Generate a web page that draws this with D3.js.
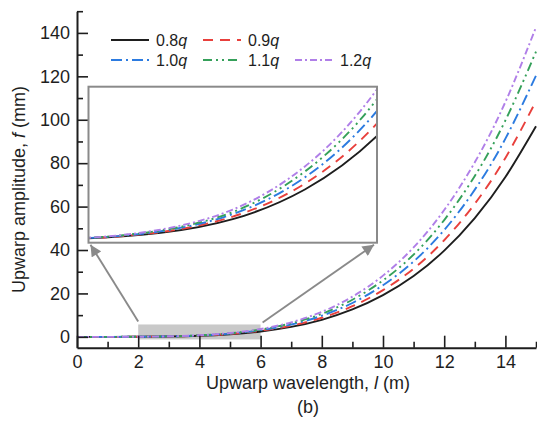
<!DOCTYPE html>
<html>
<head>
<meta charset="utf-8">
<script src="https://cdn.jsdelivr.net/npm/d3@7"></script>
<style>
  body { margin: 0; background: #fff; }
  svg { display: block; font-family: "Liberation Sans", Arial, sans-serif; }
</style>
</head>
<body>
<svg id="chart" width="537" height="429"></svg>
<script>
// ---- data ----
const wavelength = [0, 1, 2, 3, 4, 5, 6, 7, 8, 9, 10, 11, 12, 13, 14, 15];
const seriesNames = ["0.8", "0.9", "1.0", "1.1", "1.2"];
const amp08 = [0, 0.002, 0.031, 0.16, 0.49, 1.20, 2.48, 4.60, 7.85, 12.6, 19.2, 28.0, 39.7, 54.7, 73.6, 97.0];
const amp09 = [0, 0.002, 0.035, 0.18, 0.55, 1.34, 2.78, 5.15, 8.79, 14.1, 21.5, 31.4, 44.5, 61.3, 82.4, 108.6];
const amp10 = [0, 0.002, 0.038, 0.20, 0.61, 1.49, 3.08, 5.70, 9.73, 15.6, 23.8, 34.7, 49.2, 67.8, 91.3, 120.3];
const amp11 = [0, 0.003, 0.042, 0.22, 0.66, 1.63, 3.36, 6.23, 10.6, 17.1, 26.0, 37.9, 53.8, 74.1, 99.7, 131.4];
const amp12 = [0, 0.003, 0.045, 0.24, 0.72, 1.75, 3.60, 6.70, 11.5, 18.5, 28.2, 41.2, 58.4, 80.4, 108.2, 142.6];
const xMajorTicks = [0, 2, 4, 6, 8, 10, 12, 14];
const xMinorTicks = [1, 3, 5, 7, 9, 11, 13, 15];
const yMajorTicks = [0, 20, 40, 60, 80, 100, 120, 140];
const yMinorTicks = [10, 30, 50, 70, 90, 110, 130, 150];
const zoomX = [2, 6];          // region shown in inset
const zoomBoxY = [-1.2, 5.7];  // shaded region on main plot
const insetY = [-0.074, 3.66]; // inset vertical range

const allSeries = [amp08, amp09, amp10, amp11, amp12];
const colors = ["#1e1e1e", "#e8403c", "#2c7be0", "#35a05a", "#b07fe8"];
const dashes = [null, "10,7", "11,4,2,4", "9,4,2,4,2,4", "7,3,2,3"];
const lw = 1.9;

const svg = d3.select("#chart");
const x = d3.scaleLinear().domain([0, 15]).range([77, 536]);
const y = d3.scaleLinear().domain([-5, 150]).range([347.7, 11.2]);

// shaded zoom region
svg.append("rect")
  .attr("x", x(zoomX[0])).attr("y", y(zoomBoxY[1]))
  .attr("width", x(zoomX[1]) - x(zoomX[0]))
  .attr("height", y(zoomBoxY[0]) - y(zoomBoxY[1]))
  .attr("fill", "#c9c9c9");

// main curves
const line = d3.line()
  .x((d, i) => x(wavelength[i]))
  .y(d => y(d))
  .curve(d3.curveNatural);

allSeries.forEach((s, k) => {
  svg.append("path")
    .attr("d", line(s))
    .attr("fill", "none")
    .attr("stroke", colors[k])
    .attr("stroke-width", lw)
    .attr("stroke-dasharray", dashes[k]);
});

// axes
const axisColor = "#1e1e1e";
function styleAxis(g) {
  g.selectAll("path.domain").attr("stroke", axisColor).attr("stroke-width", 2);
  g.selectAll(".tick line").attr("stroke", axisColor).attr("stroke-width", 1.6);
  g.selectAll(".tick text").attr("fill", axisColor).style("font-size", "18px")
    .style("font-family", "'Liberation Sans', Arial, sans-serif");
}
const gx = svg.append("g").attr("transform", `translate(0,${y(-5)})`)
  .call(d3.axisBottom(x).tickValues(xMajorTicks).tickFormat(d3.format("d"))
    .tickSizeInner(-12).tickSizeOuter(0).tickPadding(8));
styleAxis(gx);
const gxm = svg.append("g").attr("transform", `translate(0,${y(-5)})`)
  .call(d3.axisBottom(x).tickValues(xMinorTicks).tickFormat("").tickSizeInner(-6).tickSizeOuter(0));
gxm.select("path.domain").remove();
styleAxis(gxm);

const gy = svg.append("g").attr("transform", `translate(${x(0)},0)`)
  .call(d3.axisLeft(y).tickValues(yMajorTicks).tickFormat(d3.format("d"))
    .tickSizeInner(-11).tickSizeOuter(0).tickPadding(7));
styleAxis(gy);
const gym = svg.append("g").attr("transform", `translate(${x(0)},0)`)
  .call(d3.axisLeft(y).tickValues(yMinorTicks).tickFormat("").tickSizeInner(-6).tickSizeOuter(0));
gym.select("path.domain").remove();
styleAxis(gym);

// axis titles
const yt = svg.append("text")
  .attr("transform", `translate(25,${(y(-5) + y(150)) / 2 + 10}) rotate(-90)`)
  .attr("text-anchor", "middle").attr("fill", axisColor).style("font-size", "18px");
yt.append("tspan").text("Upwarp amplitude, ");
yt.append("tspan").attr("font-style", "italic").text("f");
yt.append("tspan").text(" (mm)");

const xt = svg.append("text")
  .attr("x", 308).attr("y", 389)
  .attr("text-anchor", "middle").attr("fill", axisColor).style("font-size", "18px");
xt.append("tspan").text("Upwarp wavelength, ");
xt.append("tspan").attr("font-style", "italic").text("l");
xt.append("tspan").text(" (m)");

svg.append("text").attr("x", 308).attr("y", 413)
  .attr("text-anchor", "middle").attr("fill", axisColor).style("font-size", "18px").text("(b)");

// inset
const ix = d3.scaleLinear().domain(zoomX).range([88.5, 377]);
const iy = d3.scaleLinear().domain(insetY).range([242.7, 86.7]);
svg.append("clipPath").attr("id", "insetClip")
  .append("rect").attr("x", ix.range()[0]).attr("y", iy.range()[1])
  .attr("width", ix.range()[1] - ix.range()[0]).attr("height", iy.range()[0] - iy.range()[1]);
svg.append("rect")
  .attr("x", ix.range()[0]).attr("y", iy.range()[1])
  .attr("width", ix.range()[1] - ix.range()[0]).attr("height", iy.range()[0] - iy.range()[1])
  .attr("fill", "#fff");
const iline = d3.line()
  .x((d, i) => ix(wavelength[i]))
  .y(d => iy(d))
  .curve(d3.curveNatural);
const ig = svg.append("g").attr("clip-path", "url(#insetClip)");
allSeries.forEach((s, k) => {
  ig.append("path")
    .attr("d", iline(s))
    .attr("fill", "none")
    .attr("stroke", colors[k])
    .attr("stroke-width", lw)
    .attr("stroke-dasharray", dashes[k]);
});
svg.append("rect")
  .attr("x", ix.range()[0]).attr("y", iy.range()[1])
  .attr("width", ix.range()[1] - ix.range()[0]).attr("height", iy.range()[0] - iy.range()[1])
  .attr("fill", "none").attr("stroke", "#8a8a8a").attr("stroke-width", 2);

// arrows from shaded region to inset corners
const defs = svg.append("defs");
defs.append("marker").attr("id", "arrowHead")
  .attr("viewBox", "0 0 10 10").attr("refX", 10).attr("refY", 5)
  .attr("markerWidth", 6.5).attr("markerHeight", 6).attr("markerUnits", "strokeWidth")
  .attr("orient", "auto")
  .append("path").attr("d", "M0,0 L10,5 L0,10 Z").attr("fill", "#8a8a8a");
const arrows = [
  [x(zoomX[0]), y(zoomBoxY[1]) - 3, ix.range()[0] + 2, iy.range()[0] + 2],
  [x(zoomX[1]) + 2, y(zoomBoxY[1]) - 2, ix.range()[1] - 3, iy.range()[0] + 2]
];
arrows.forEach(a => {
  svg.append("line")
    .attr("x1", a[0]).attr("y1", a[1]).attr("x2", a[2]).attr("y2", a[3])
    .attr("stroke", "#8a8a8a").attr("stroke-width", 1.9)
    .attr("marker-end", "url(#arrowHead)");
});

// legend
const legendPos = [[111, 40], [203, 40], [111, 60], [203, 60], [295, 60]];
seriesNames.forEach((name, k) => {
  const [lx, ly] = legendPos[k];
  svg.append("line")
    .attr("x1", lx).attr("x2", lx + 38).attr("y1", ly).attr("y2", ly)
    .attr("stroke", colors[k]).attr("stroke-width", lw)
    .attr("stroke-dasharray", dashes[k]);
  const t = svg.append("text").attr("x", lx + 45).attr("y", ly + 6)
    .attr("fill", axisColor).style("font-size", "16px");
  t.append("tspan").text(name);
  t.append("tspan").attr("font-style", "italic").text("q");
});
</script>
</body>
</html>
